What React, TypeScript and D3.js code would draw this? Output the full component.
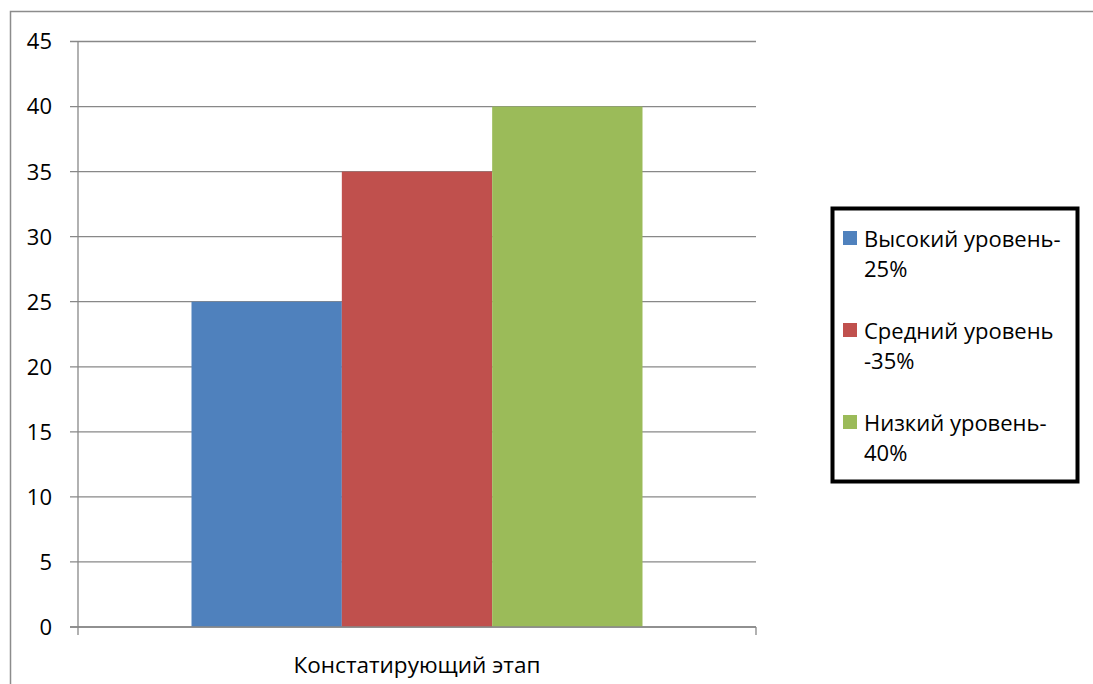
import React, { useEffect, useRef } from "react";
import * as d3 from "d3";

const categories = ["Констатирующий этап"];
const seriesNames = ["Высокий уровень-25%", "Средний уровень -35%", "Низкий уровень-40%"];
const legendLines = [["Высокий уровень-", "25%"], ["Средний уровень", "-35%"], ["Низкий уровень-", "40%"]];
const seriesValues = [25, 35, 40];
const seriesColors = ["#4F81BD", "#C0504D", "#9BBB59"];
const yTicks = [0, 5, 10, 15, 20, 25, 30, 35, 40, 45];

const W = 1093;
const H = 684;
const FONT = "'Open Sans', 'Noto Sans', sans-serif";

function App() {
  const ref = useRef<SVGSVGElement>(null);

  useEffect(() => {
    const svg = d3.select(ref.current);
    svg.selectAll("*").remove();

    // outer chart frame (only top + left visible in picture)
    svg.append("path")
      .attr("d", `M10.5,${H} V11.5 H${W}`)
      .attr("fill", "none")
      .attr("stroke", "#8c8c8c")
      .attr("stroke-width", 1.5);

    const plot = { left: 78, right: 756, top: 41.5, bottom: 627 };
    const y = d3.scaleLinear().domain([0, 45]).range([plot.bottom, plot.top]);
    const x = d3.scaleBand().domain(categories).range([plot.left, plot.right]);
    const inner = d3.scaleBand().domain(seriesNames)
      .range([0, x.bandwidth()]).paddingInner(0).paddingOuter(0.755);

    const g = svg.append("g");

    // gridlines
    g.selectAll("line.grid")
      .data(yTicks)
      .enter()
      .append("line")
      .attr("x1", plot.left - 8)
      .attr("x2", plot.right)
      .attr("y1", d => y(d))
      .attr("y2", d => y(d))
      .attr("stroke", "#888")
      .attr("stroke-width", 1.3);

    // bars
    categories.forEach(cat => {
      g.selectAll(null)
        .data(seriesValues)
        .enter()
        .append("rect")
        .attr("x", (d, i) => (x(cat) as number) + (inner(seriesNames[i]) as number))
        .attr("width", inner.bandwidth())
        .attr("y", d => y(d))
        .attr("height", d => plot.bottom - y(d))
        .attr("fill", (d, i) => seriesColors[i]);
    });

    // axes lines
    g.append("line")
      .attr("x1", plot.left).attr("x2", plot.left)
      .attr("y1", plot.top).attr("y2", plot.bottom + 8)
      .attr("stroke", "#888").attr("stroke-width", 1.3);
    g.append("line")
      .attr("x1", plot.left - 8).attr("x2", plot.right)
      .attr("y1", plot.bottom).attr("y2", plot.bottom)
      .attr("stroke", "#888").attr("stroke-width", 1.3);
    g.append("line")
      .attr("x1", plot.right).attr("x2", plot.right)
      .attr("y1", plot.bottom).attr("y2", plot.bottom + 8)
      .attr("stroke", "#888").attr("stroke-width", 1.3);

    // y tick labels
    g.selectAll("text.ytick")
      .data(yTicks)
      .enter()
      .append("text")
      .attr("x", 52)
      .attr("y", d => y(d))
      .attr("dy", "0.36em")
      .attr("text-anchor", "end")
      .style("font-family", FONT)
      .style("font-size", "22px")
      .attr("fill", "#000")
      .text(d => d);

    // category label
    g.selectAll("text.xcat")
      .data(categories)
      .enter()
      .append("text")
      .attr("x", d => (x(d) as number) + x.bandwidth() / 2)
      .attr("y", 673)
      .attr("text-anchor", "middle")
      .style("font-family", FONT)
      .style("font-size", "22.5px")
      .attr("fill", "#000")
      .text(d => d);

    // legend
    const leg = svg.append("g");
    leg.append("rect")
      .attr("x", 832.5).attr("y", 208.5)
      .attr("width", 245).attr("height", 273)
      .attr("fill", "#fff")
      .attr("stroke", "#000")
      .attr("stroke-width", 4);

    const items = leg.selectAll("g.item")
      .data(legendLines)
      .enter()
      .append("g")
      .attr("transform", (d, i) => `translate(0, ${i * 92})`);
    items.append("rect")
      .attr("x", 843).attr("y", 231)
      .attr("width", 14).attr("height", 14)
      .attr("fill", (d, i) => seriesColors[i]);
    items.append("text")
      .attr("x", 864)
      .attr("y", 247)
      .style("font-family", FONT)
      .style("font-size", "22px")
      .attr("fill", "#000")
      .selectAll("tspan")
      .data(d => d)
      .enter()
      .append("tspan")
      .attr("x", 864)
      .attr("dy", (d, i) => (i === 0 ? 0 : 30))
      .text(d => d);
  }, []);

  return (
    <svg
      ref={ref}
      width={W}
      height={H}
      style={{ position: "absolute", left: 0, top: 0, background: "#fff" }}
    />
  );
}

export default App;
